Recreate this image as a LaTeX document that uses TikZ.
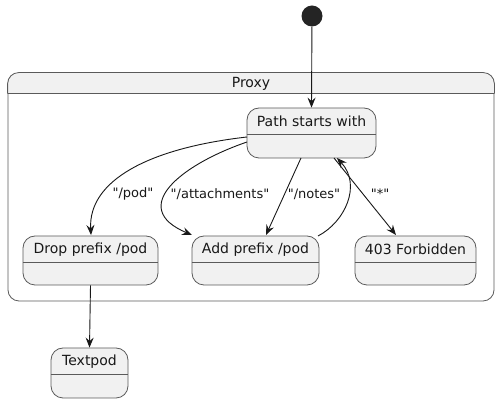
\documentclass[tikz,border=0pt]{standalone}
\usepackage{fontspec}
\setmainfont{DejaVu Sans}
\usetikzlibrary{arrows.meta}
\definecolor{stfill}{HTML}{F1F1F1}
\definecolor{stline}{HTML}{5A5A5A}
\definecolor{ink}{HTML}{181818}
\newcommand{\dq}{\XeTeXglyph\XeTeXglyphindex "quotedbl"\relax}
\tikzset{
  statebox/.style={draw=stline, fill=stfill, rounded corners=12pt, line width=0.8pt, inner sep=0pt},
  stitle/.style={font=\fontsize{14}{16}\selectfont, text=ink, inner sep=0pt},
  elabel/.style={font=\fontsize{13}{15}\selectfont, text=ink, inner sep=0pt},
  conn/.style={draw=ink, line width=0.9pt, -{Stealth[length=10pt,width=8pt,inset=3.5pt]}},
}
\newcommand{\stbox}[6]{% name, cx, cy, w, h, title
  \node[statebox, minimum width=#4pt, minimum height=#5pt] (#1) at (#2,#3) {};
  \draw[stline, line width=0.8pt] ([yshift=-27pt]#1.north west) -- ([yshift=-27pt]#1.north east);
  \node[stitle] (#1-t) at ([yshift=-14pt]#1.north) {#6};
}
\begin{document}
\begin{tikzpicture}[x=1pt,y=-1pt]
\useasboundingbox (0,0) rectangle (499,403);
% container
\node[statebox, fill=white, minimum width=486pt, minimum height=228pt, rounded corners=11pt] (proxy) at (251,187) {};
\fill[stfill, rounded corners=11pt] ([xshift=0.4pt]proxy.north west) -- ([xshift=-0.4pt]proxy.north east) [sharp corners] -- ([xshift=-0.4pt,yshift=-21pt]proxy.north east) -- ([xshift=0.4pt,yshift=-21pt]proxy.north west) [rounded corners=11pt] -- cycle;
\draw[stline, line width=0.8pt, rounded corners=11pt] ([yshift=-21pt]proxy.north west) -- (proxy.north west) -- (proxy.north east) -- ([yshift=-21pt]proxy.north east);
\draw[stline, line width=0.8pt] ([yshift=-21pt]proxy.north west) -- ([yshift=-21pt]proxy.north east);
\node[stitle] (proxy-t) at ([yshift=-11pt]proxy.north) {Proxy};
% initial
\node[circle, fill=ink!95, minimum size=21pt, inner sep=0pt] (init) at (312,16) {};
% states
\stbox{path}{311.5}{133}{129}{50}{Path starts with}
\stbox{drop}{90.5}{260.5}{135}{49}{Drop prefix /pod}
\stbox{add}{255.5}{260.5}{127}{49}{Add prefix /pod}
\stbox{forb}{415.5}{260.5}{121}{49}{403 Forbidden}
\stbox{textpod}{89.5}{373}{77}{50}{Textpod}
% coordinates
\coordinate (p1) at (247,137);
\coordinate (p2) at (247,142);
\coordinate (p3) at (301,158);
\coordinate (p4) at (337,158);
\coordinate (p5) at (334,158);
\coordinate (d1) at (91,235);
\coordinate (a1) at (192,235);
\coordinate (a2) at (266,235);
\coordinate (a3) at (318,236);
\coordinate (f1) at (396,235);
% edges
\draw[conn] (init) -- (path.north);
\draw[conn] (p1) .. controls (150,148) and (88,180) .. (d1);
\draw[conn] (p2) .. controls (180,165) and (128,208) .. (a1);
\draw[conn] (p3) -- (a2);
\draw[conn] (a3) .. controls (345,222) and (362,185) .. (p4);
\draw[conn] (p5) -- (f1);
\draw[conn] (drop.south) -- (textpod.north);
% labels
\node[elabel] (l1) at (133,194) {\dq/pod\dq};
\node[elabel] (l2) at (220,194) {\dq/attachments\dq};
\node[elabel] (l3) at (314,194) {\dq/notes\dq};
\node[elabel] (l4) at (380,194) {\dq*\dq};
\end{tikzpicture}
\end{document}
